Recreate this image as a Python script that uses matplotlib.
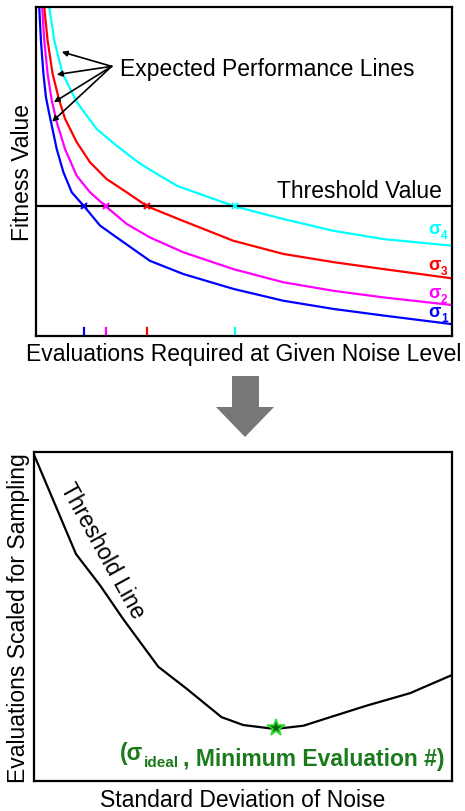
import matplotlib
matplotlib.use("Agg")
import matplotlib.pyplot as plt
from matplotlib.patches import Polygon

plt.rcParams['font.family'] = ['Liberation Sans', 'DejaVu Sans']

# top panel: expected performance curves (fitness vs evaluations), 0-100 scale
x_s1 = [0.9, 1.3, 1.9, 2.5, 3.3, 3.9, 5.1, 6.7, 8.7, 11.7, 15.5, 19.5, 27.5, 35.5, 47.5, 59.5, 71.6, 83.6, 100]
y_s1 = [99.9, 89.8, 79.7, 72.6, 67.5, 64.0, 56.8, 49.8, 43.7, 39.4, 33.6, 30.0, 22.9, 18.9, 14.4, 10.8, 8.3, 6.3, 3.7]
x_s2 = [1.6, 2.1, 2.9, 3.9, 5.1, 7.1, 9.9, 13.1, 16.9, 21.9, 27.5, 35.5, 47.5, 59.5, 71.6, 83.6, 100]
y_s2 = [99.9, 89.8, 79.7, 71.6, 65.0, 56.8, 48.7, 43.7, 39.4, 34.1, 30.0, 25.5, 20.4, 16.4, 13.8, 11.8, 9.5]
x_s3 = [2.1, 2.9, 4.1, 5.7, 7.1, 9.9, 13.1, 17.1, 21.9, 26.9, 34.3, 47.5, 59.5, 71.6, 83.6, 100]
y_s3 = [99.9, 89.8, 79.7, 71.6, 66.0, 58.9, 52.8, 47.7, 43.7, 39.4, 35.6, 29.0, 25.0, 22.5, 20.4, 17.6]
x_s4 = [3.3, 4.5, 6.5, 9.7, 11.1, 14.7, 19.5, 25.1, 29.9, 34.3, 47.9, 59.5, 71.6, 83.6, 100]
y_s4 = [99.9, 89.8, 79.7, 71.6, 69.0, 62.9, 57.8, 52.4, 48.7, 45.5, 39.4, 35.6, 32.0, 29.5, 27.5]

threshold = 39.4
crossings = [11.7, 16.9, 26.9, 47.9]
sigma_names = ['1', '2', '3', '4']
sigma_label_y = [7.4, 13.4, 21.9, 32.6]
colors = ['#0000ff', '#ff00ff', '#ff0000', '#00ffff']

# arrows for "Expected Performance Lines"
arrow_origin = (18.3, 81.9)
arrow_tips_x = [6.3, 5.1, 4.4, 4.0]
arrow_tips_y = [86.3, 79.4, 71.0, 65.1]

# bottom panel: threshold line (evaluations vs noise std), 0-100 scale
noise_x = [0, 10.1, 15.9, 21.4, 29.8, 36.6, 44.9, 50.1, 57.7, 64.5, 70.9, 79.6, 90.0, 100]
evals_y = [99.5, 69.1, 59.5, 49.3, 34.8, 28.1, 19.5, 17.1, 15.9, 16.9, 19.5, 23.0, 26.8, 32.3]
best_x, best_y = 57.9, 16.1

W, H = 465, 812
fig = plt.figure(figsize=(W / 100, H / 100), dpi=100)
fs = 16.5

def frame(ax):
    ax.set_xlim(0, 100)
    ax.set_ylim(0, 100)
    ax.set_xticks([])
    ax.set_yticks([])
    for s in ax.spines.values():
        s.set_linewidth(1.6)
        s.set_color('black')

def sub_text(ax, x, y, base, sub, color, size, subsize, dy=0.12, **kw):
    t = ax.text(x, y, base, color=color, fontsize=size, fontweight='bold',
                va='center', ha='left', **kw)
    t2 = ax.annotate(sub, xy=(1, dy), xycoords=t, xytext=(0.5, 0),
                     textcoords='offset points', color=color, fontsize=subsize,
                     fontweight='bold', va='center', ha='left')
    return t, t2

# ---- top panel
ax1 = fig.add_axes([35.5 / W, 1 - 337.3 / H, 416.2 / W, 329.6 / H])
frame(ax1)
curves = [(x_s1, y_s1), (x_s2, y_s2), (x_s3, y_s3), (x_s4, y_s4)]
for (xs, ys), c in zip(curves, colors):
    ax1.plot(xs, ys, color=c, lw=1.6, solid_joinstyle='round')
ax1.axhline(threshold, color='black', lw=1.6)
for xc, c in zip(crossings, colors):
    ax1.plot(xc, threshold, marker='x', color=c, ms=4, mew=1.5)
    ax1.plot([xc, xc], [0, 2.5], color=c, lw=1.6)
for name, ly, c in zip(sigma_names, sigma_label_y, colors):
    sub_text(ax1, 94.3, ly, '\u03c3', name, c, 13, 8.5)
for tx, ty in zip(arrow_tips_x, arrow_tips_y):
    ax1.annotate('', xy=(tx, ty), xytext=arrow_origin,
                 arrowprops=dict(arrowstyle='-|>', color='black', lw=1.2,
                                 mutation_scale=8, shrinkA=0, shrinkB=0))
ax1.text(20.3, 81.1, 'Expected Performance Lines', fontsize=fs, va='center', ha='left')
ax1.text(97.7, 40.8, 'Threshold Value', fontsize=fs, va='bottom', ha='right')
ax1.set_xlabel('Evaluations Required at Given Noise Level', fontsize=fs, labelpad=4)
ax1.set_ylabel('Fitness Value', fontsize=fs, labelpad=1)

# ---- big gray arrow between panels
cx = 245
arrow_pts = [(232, 377), (259, 377), (259, 408), (274, 408), (cx, 438),
             (216, 408), (232, 408)]
fig.add_artist(Polygon([(px / W, 1 - py / H) for px, py in arrow_pts],
                       closed=True, transform=fig.transFigure,
                       facecolor='#777777', edgecolor='none'))

# ---- bottom panel
ax2 = fig.add_axes([33.7 / W, 1 - 782.3 / H, 418.3 / W, 329 / H])
frame(ax2)
ax2.plot(noise_x, evals_y, color='black', lw=1.6)
ax2.plot(best_x, best_y, marker='*', ms=13, color='#0b6b0b',
         markeredgecolor='#33dd33', mew=1.2, zorder=5)
ax2.text(16.3, 70.4, 'Threshold Line', fontsize=fs, rotation=-61,
         rotation_mode='anchor', ha='center', va='center')
green = '#1b7a1b'
t, t2 = sub_text(ax2, 20.6, 8.9, '(\u03c3', 'ideal', green, fs, 11, dy=0.05)
ax2.annotate(', Minimum Evaluation #)', xy=(1, 0.75), xycoords=t2,
             xytext=(3, 0), textcoords='offset points', color=green,
             fontsize=fs, fontweight='bold', va='center', ha='left')
ax2.set_xlabel('Standard Deviation of Noise', fontsize=fs, labelpad=5)
ax2.set_ylabel('Evaluations Scaled for Sampling', fontsize=fs, labelpad=3)

fig.savefig('out.png', dpi=100)
